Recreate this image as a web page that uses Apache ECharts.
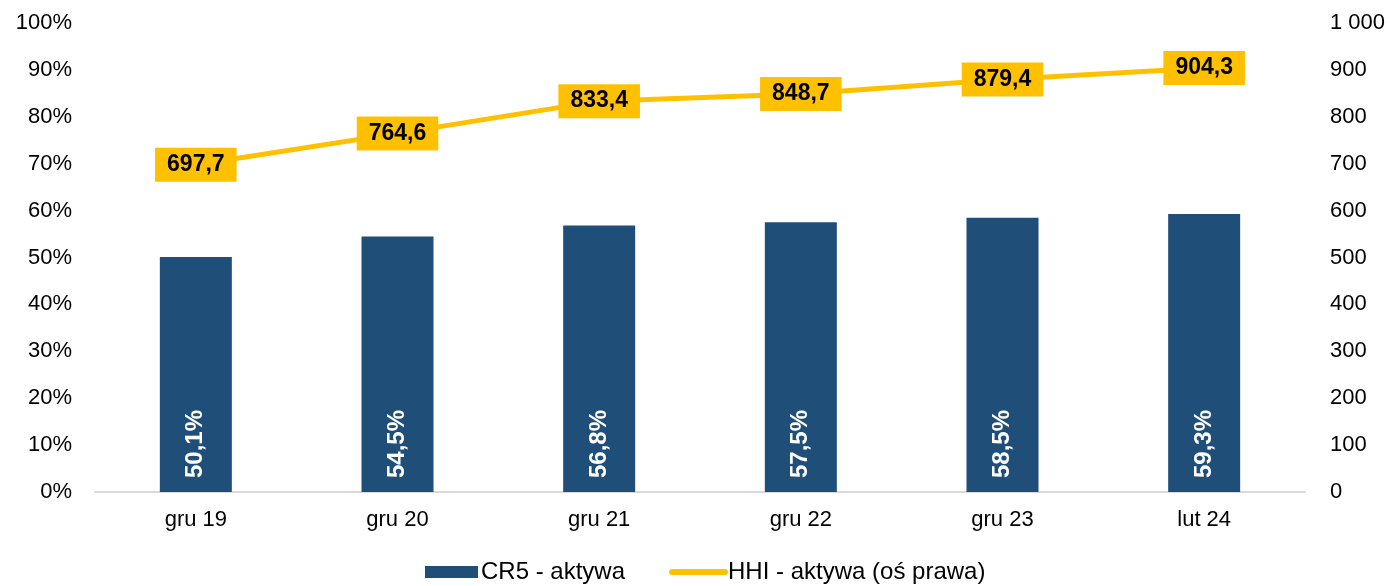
<!DOCTYPE html>
<html>
<head>
<meta charset="utf-8">
<script src="https://cdn.jsdelivr.net/npm/echarts@6/dist/echarts.min.js"></script>
<style>
  html, body { margin: 0; padding: 0; background: #fff; }
  #chart { width: 1390px; height: 586px; }
</style>
</head>
<body>
<div id="chart"></div>
<script>
// dane
var categories = ["gru 19", "gru 20", "gru 21", "gru 22", "gru 23", "lut 24"];
var cr5 = [50.1, 54.5, 56.8, 57.5, 58.5, 59.3];
var hhi = [697.7, 764.6, 833.4, 848.7, 879.4, 904.3];

var font = "Liberation Sans, Arial, sans-serif";
var chart = echarts.init(document.getElementById("chart"));

function plNum(v) {
  return v.toFixed(1).replace(".", ",");
}

var option = {
  animation: false,
  textStyle: { fontFamily: font },
  grid: { left: 95, right: 85, top: 23, bottom: 94 },
  legend: {
    top: 560,
    left: 425,
    padding: 0,
    itemGap: 44,
    itemWidth: 53,
    itemHeight: 12,
    textStyle: { fontFamily: font, fontSize: 24, color: "#000", padding: [0, 0, 0, -2] },
    data: [
      { name: "CR5 - aktywa", icon: "rect" },
      {
        name: "HHI - aktywa (oś prawa)",
        itemStyle: { opacity: 0 },
        lineStyle: { width: 6, cap: "round", color: "#FFC000" }
      }
    ]
  },
  xAxis: {
    type: "category",
    data: categories,
    axisLine: { lineStyle: { color: "#d9d9d9", width: 2 } },
    axisTick: { show: false },
    axisLabel: { fontFamily: font, fontSize: 22, color: "#000", margin: 17 }
  },
  yAxis: [
    {
      type: "value",
      min: 0,
      max: 100,
      interval: 10,
      splitLine: { show: false },
      axisLine: { show: false },
      axisTick: { show: false },
      axisLabel: {
        fontFamily: font, fontSize: 22, color: "#000", margin: 23,
        formatter: function (v) { return v + "%"; }
      }
    },
    {
      type: "value",
      min: 0,
      max: 1000,
      interval: 100,
      splitLine: { show: false },
      axisLine: { show: false },
      axisTick: { show: false },
      axisLabel: {
        fontFamily: font, fontSize: 22, color: "#000", margin: 25,
        formatter: function (v) { return v === 1000 ? "1 000" : String(v); }
      }
    }
  ],
  series: [
    {
      name: "CR5 - aktywa",
      type: "bar",
      data: cr5,
      barWidth: 72,
      itemStyle: { color: "#1F4E79" },
      label: {
        show: true,
        position: "insideBottom",
        rotate: 90,
        align: "left",
        verticalAlign: "middle",
        distance: 14,
        fontFamily: font,
        fontSize: 24,
        fontWeight: "bold",
        color: "#fff",
        formatter: function (p) { return plNum(p.value) + "%"; }
      }
    },
    {
      name: "HHI - aktywa (oś prawa)",
      type: "line",
      yAxisIndex: 1,
      data: hhi,
      symbol: "circle",
      symbolSize: 1,
      lineStyle: { color: "#FFC000", width: 5 },
      itemStyle: { color: "#FFC000" },
      label: {
        show: true,
        position: "inside",
        fontFamily: font,
        fontSize: 23,
        fontWeight: "bold",
        color: "#000",
        backgroundColor: "#FFC000",
        padding: [6, 12, 5, 12],
        formatter: function (p) { return plNum(p.value); }
      }
    }
  ]
};

chart.setOption(option);
</script>
</body>
</html>
